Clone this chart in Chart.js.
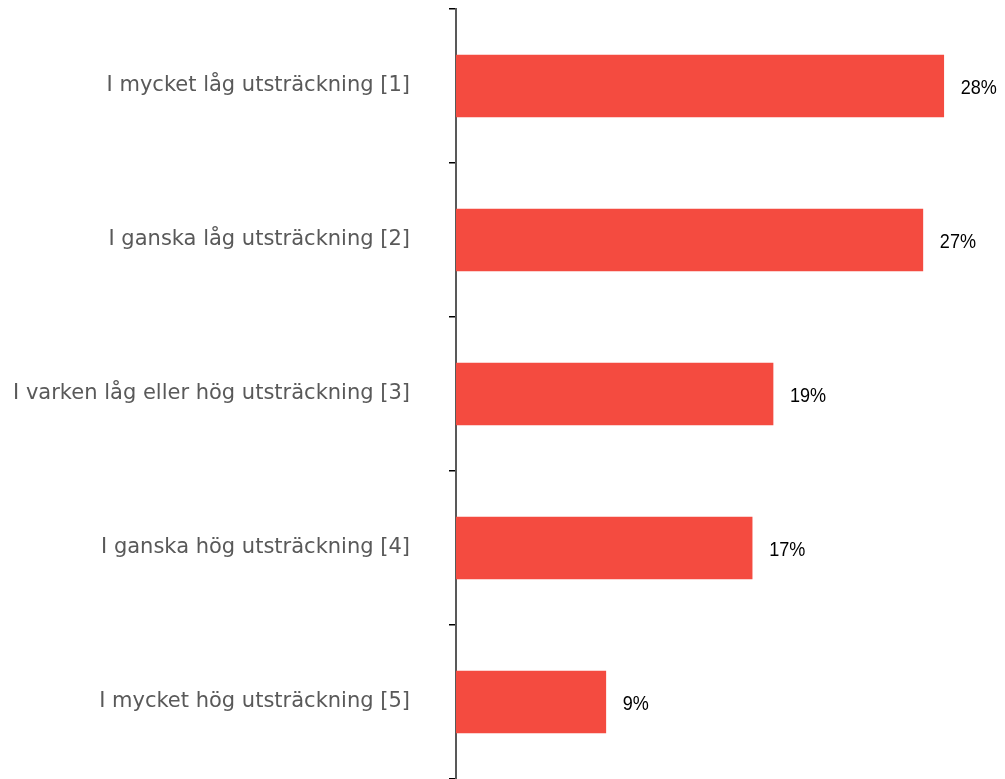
<!DOCTYPE html>
<html>
<head>
<meta charset="utf-8">
<script src="https://cdn.jsdelivr.net/npm/chart.js@4"></script>
<style>
	html, body { margin: 0; padding: 0; background: #fff; overflow: hidden; }
	#wrap { width: 1005px; height: 779px; }
</style>
</head>
<body>
<div id="wrap"><canvas id="chart" width="1005" height="779"></canvas></div>
<script>
const categories = [
	'I mycket låg utsträckning [1]',
	'I ganska låg utsträckning [2]',
	'I varken låg eller hög utsträckning [3]',
	'I ganska hög utsträckning [4]',
	'I mycket hög utsträckning [5]',
];
const shares = [28, 26.8, 18.2, 17, 8.6];
const shareLabels = ['28%', '27%', '19%', '17%', '9%'];

const barColor = '#f44b40';

// value labels to the right of each bar (narrow look, like the original)
const valueLabels = {
	id: 'valueLabels',
	afterDatasetsDraw(chart) {
		const ctx = chart.ctx;
		const meta = chart.getDatasetMeta(0);
		meta.data.forEach((bar, i) => {
			ctx.save();
			ctx.translate(bar.x + 17, bar.y + 2);
			ctx.scale(0.86, 1);
			ctx.font = '21px "Liberation Sans", sans-serif';
			ctx.fillStyle = '#000';
			ctx.textAlign = 'left';
			ctx.textBaseline = 'middle';
			ctx.fillText(shareLabels[i], 0, 0);
			ctx.restore();
		});
	},
};

new Chart(document.getElementById('chart').getContext('2d'), {
	type: 'bar',
	data: {
		labels: categories,
		datasets: [
			{
				data: shares,
				backgroundColor: barColor,
				borderWidth: 0,
				barThickness: 62,
			},
		],
	},
	options: {
		indexAxis: 'y',
		responsive: false,
		animation: false,
		layout: { padding: { top: 9, right: 9, bottom: -3, left: 0 } },
		scales: {
			x: {
				display: false,
				min: 0,
				max: 31,
			},
			y: {
				afterFit(scale) {
					scale.width = 456;
					scale.paddingTop = 0;
					scale.paddingBottom = 0;
				},
				border: { display: true, color: '#595959', width: 2 },
				grid: {
					drawOnChartArea: false,
					drawTicks: true,
					tickLength: 7,
					color: '#000',
					lineWidth: 1.5,
				},
				ticks: {
					padding: 39,
					color: '#595959',
					font: { family: '"DejaVu Sans", sans-serif', size: 21 },
				},
			},
		},
		plugins: {
			legend: { display: false },
			tooltip: { enabled: false },
		},
	},
	plugins: [valueLabels],
});
</script>
</body>
</html>
